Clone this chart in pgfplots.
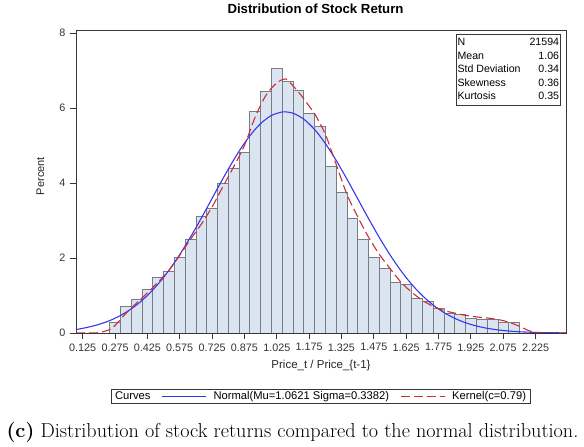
\documentclass[border=0pt]{standalone}
\usepackage{fontspec}
\usepackage{pgfplots}
\pgfplotsset{compat=1.18}
\newfontfamily\arial{Liberation Sans}
\definecolor{barfill}{RGB}{219,229,241}
\definecolor{baredge}{RGB}{120,125,130}
\definecolor{nblue}{RGB}{55,55,235}
\definecolor{kred}{RGB}{205,45,55}
\definecolor{framec}{RGB}{55,55,55}
\begin{document}
\begin{tikzpicture}[x=1pt,y=1pt]
\useasboundingbox (0pt,0pt) rectangle (584pt,447pt);
\begin{axis}[
  at={(76pt,114pt)}, anchor=south west,
  scale only axis, width=490pt, height=302.3pt,
  xmin=0.094, xmax=2.366, ymin=0, ymax=8.06,
  xtick={0.125,0.275,0.425,0.575,0.725,0.875,1.025,1.175,1.325,1.475,1.625,1.775,1.925,2.075,2.225},
  xticklabels={0.125,0.275,0.425,0.575,0.725,0.875,1.025,1.175,1.325,1.475,1.625,1.775,1.925,2.075,2.225},
  ytick={0,2,4,6,8},
  tick align=outside, major tick length=6pt,
  xtick pos=bottom, ytick pos=left,
  axis line style={framec, line width=0.9pt},
  tick style={framec, line width=0.8pt},
  ticklabel style={font=\arial\fontsize{10.8}{12}\selectfont, text=black!80},
  /pgf/number format/assume math mode=true,
  xticklabel style={yshift=-1pt},
  yticklabel style={xshift=-1pt},
  xlabel={Price\_t / Price\_\{t-1\}},
  ylabel={Percent},
  xlabel style={at={(axis description cs:0.5,-0.106)}, anchor=center, font=\arial\fontsize{11.5}{13}\selectfont, text=black!85},
  ylabel style={at={(axis description cs:-0.0725,0.519)}, anchor=center, font=\arial\fontsize{11}{13}\selectfont, text=black!85},
  title={Distribution of Stock Return},
  title style={at={(axis description cs:0.4888,1.052)}, anchor=center, font=\arial\bfseries\fontsize{13.2}{15}\selectfont},
  legend style={at={(axis description cs:0.499,-0.2095)}, anchor=center,
    legend columns=3, draw=framec, line width=0.8pt, font=\arial\fontsize{11.2}{12.5}\selectfont,
    inner xsep=2pt, inner ysep=0.5pt, row sep=0pt,
    /tikz/every even column/.append style={column sep=9pt}},
  legend cell align=left,
  legend image code/.code={\draw[#1] (0pt,0pt) -- (44pt,0pt); \path (49pt,0pt);},
]
\addlegendimage{empty legend}
\addlegendentry{Curves}

\addplot[ybar, bar width=0.05, fill=barfill, draw=baredge, line width=0.7pt, forget plot] coordinates {
(0.275,0.29) (0.325,0.72) (0.375,0.91) (0.425,1.17) (0.475,1.48) (0.525,1.64)
(0.575,2.01) (0.625,2.50) (0.675,3.12) (0.725,3.33) (0.775,3.99) (0.825,4.39)
(0.875,4.81) (0.925,5.91) (0.975,6.44) (1.025,7.05) (1.075,6.70) (1.125,6.47)
(1.175,5.85) (1.225,5.51) (1.275,4.45) (1.325,3.76) (1.375,3.07) (1.425,2.50)
(1.475,2.01) (1.525,1.73) (1.575,1.34) (1.625,1.29) (1.675,0.93) (1.725,0.84)
(1.775,0.65) (1.825,0.53) (1.875,0.49) (1.925,0.38) (1.975,0.36) (2.025,0.36)
(2.075,0.29) (2.125,0.28)
};

\addplot[nblue, line width=1.1pt, smooth, no markers] coordinates {
(0.094,0.090) (0.15,0.155) (0.2,0.229) (0.25,0.330) (0.3,0.466) (0.35,0.642)
(0.4,0.867) (0.45,1.147) (0.5,1.482) (0.55,1.874) (0.6,2.319) (0.65,2.807)
(0.7,3.325) (0.75,3.853) (0.8,4.368) (0.85,4.845) (0.9,5.258) (0.95,5.582)
(1.0,5.800) (1.05,5.894) (1.0621,5.898) (1.1,5.861) (1.15,5.702) (1.2,5.427)
(1.25,5.055) (1.3,4.605) (1.35,4.106) (1.4,3.581) (1.45,3.055) (1.5,2.551)
(1.55,2.083) (1.6,1.665) (1.65,1.302) (1.7,0.996) (1.75,0.745) (1.8,0.546)
(1.85,0.391) (1.9,0.274) (1.95,0.188) (2.0,0.126) (2.05,0.083) (2.1,0.053)
(2.15,0.033) (2.2,0.021) (2.25,0.012) (2.3,0.007) (2.366,0.004)
};
\addlegendentry{Normal(Mu=1.0621 Sigma=0.3382)}

\addplot[kred, line width=1.1pt, dash pattern=on 9pt off 4pt, smooth, tension=0.5, no markers] coordinates {
(0.094,0) (0.15,0) (0.2,0.01) (0.25,0.09) (0.275,0.2) (0.325,0.52) (0.375,0.8)
(0.425,1.07) (0.475,1.36) (0.525,1.67) (0.575,2.07) (0.625,2.5) (0.675,2.9)
(0.725,3.36) (0.775,3.9) (0.825,4.43) (0.875,5.0) (0.925,5.76) (0.975,6.34)
(1.025,6.67) (1.06,6.77) (1.075,6.74) (1.125,6.43) (1.175,6.05) (1.2,5.85)
(1.25,5.3) (1.3,4.5) (1.35,3.7) (1.4,3.1) (1.45,2.56) (1.5,2.1) (1.55,1.72)
(1.6,1.36) (1.65,1.09) (1.7,0.87) (1.75,0.71) (1.8,0.6) (1.85,0.53) (1.9,0.47)
(1.95,0.43) (2.0,0.4) (2.05,0.36) (2.1,0.29) (2.15,0.18) (2.2,0.05) (2.25,0.0)
(2.366,0)
};
\addlegendentry{Kernel(c=0.79)}

\node[anchor=north east, draw=framec, line width=0.9pt, inner sep=1.5pt,
  font=\arial\fontsize{10.6}{13.6}\selectfont, fill=white]
  at (axis description cs:0.9898,0.9888) {%
  \begin{tabular}{@{}l@{\hspace{9pt}}r@{}}
  N & 21594\\
  Mean & 1.06\\
  Std Deviation & 0.34\\
  Skewness & 0.36\\
  Kurtosis & 0.35
  \end{tabular}};
\end{axis}
\node[anchor=center, font=\fontsize{20.2}{23}\selectfont] at (292.5pt,15pt)
  {\textbf{(c)} Distribution of stock returns compared to the normal distribution.};
\end{tikzpicture}
\end{document}
